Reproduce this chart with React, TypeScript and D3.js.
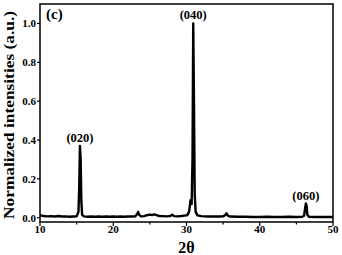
import * as d3 from "d3";

// XRD pattern, 2θ vs normalized intensity
const twoTheta = [
  10, 10.5, 11, 11.5, 12, 12.5, 13, 13.5, 14, 14.5, 15.0, 15.25, 15.35, 15.45, 15.55, 15.65, 15.75,
  16, 16.5, 17, 17.5, 18, 18.5, 19, 19.5, 20, 20.5, 21, 21.5, 22, 22.5, 23, 23.25, 23.4, 23.55, 23.8,
  24.2, 24.6, 25, 25.3, 25.6, 25.9, 26.3, 26.8, 27.3, 27.8, 28.05, 28.3, 28.8, 29.3, 29.7, 30.1, 30.35,
  30.55, 30.7, 30.82, 30.92, 31.02, 31.12, 31.25, 31.5, 32, 32.5, 33, 33.5, 34, 34.5, 35, 35.3, 35.47,
  35.65, 36, 37, 38, 39, 40, 41, 42, 43, 44, 45, 45.8, 46.05, 46.2, 46.3, 46.4, 46.5, 46.7, 47.5, 48, 49, 50,
];
const intensity = [
  0.012, 0.009, 0.007, 0.008, 0.006, 0.009, 0.006, 0.007, 0.005, 0.006, 0.007, 0.03, 0.15, 0.37, 0.3, 0.08, 0.015,
  0.007, 0.005, 0.006, 0.005, 0.006, 0.005, 0.006, 0.005, 0.006, 0.005, 0.006, 0.005, 0.006, 0.006, 0.007, 0.018, 0.03, 0.015, 0.007,
  0.008, 0.013, 0.016, 0.014, 0.017, 0.013, 0.009, 0.008, 0.007, 0.009, 0.016, 0.008, 0.007, 0.009, 0.011, 0.013, 0.03,
  0.09, 0.07, 0.3, 1.0, 0.6, 0.12, 0.03, 0.012, 0.008, 0.007, 0.006, 0.006, 0.006, 0.006, 0.007, 0.014, 0.023,
  0.01, 0.006, 0.005, 0.005, 0.004, 0.004, 0.005, 0.004, 0.004, 0.005, 0.004, 0.005, 0.01, 0.05, 0.073, 0.06, 0.015, 0.005, 0.004, 0.004, 0.004, 0.004,
];

const peakLabels = ["(020)", "(040)", "(060)"];
const peakPos = [15.45, 30.92, 46.3];
const peakHeight = [0.37, 1.0, 0.073];

const xTicks = [10, 20, 30, 40, 50];
const xMinor = [15, 25, 35, 45];
const yTicks = [0, 0.2, 0.4, 0.6, 0.8, 1.0];

const W = 342;
const H = 255;
const margin = { top: 4, right: 9, bottom: 33, left: 40 };
const font = "'Liberation Serif', 'Times New Roman', serif";

export default function App() {
  const x = d3.scaleLinear().domain([10, 50]).range([margin.left, W - margin.right]);
  const y = d3.scaleLinear().domain([-0.022, 1.1]).range([H - margin.bottom, margin.top]);

  const pts = twoTheta.map((t, i) => [t, intensity[i]] as [number, number]);
  const line = d3.line<[number, number]>()
    .x(d => x(d[0]))
    .y(d => y(d[1]));

  const bottom = H - margin.bottom;
  const cx = (margin.left + W - margin.right) / 2;
  const cy = (margin.top + bottom) / 2;

  return (
    <svg width={W} height={H} style={{ position: "absolute", left: 0, top: 0, display: "block", background: "#fff" }}>
      <path d={line(pts) ?? ""} fill="none" stroke="#000" strokeWidth={2.4} strokeLinejoin="round" />

      <rect
        x={margin.left}
        y={margin.top}
        width={W - margin.left - margin.right}
        height={bottom - margin.top}
        fill="none"
        stroke="#000"
        strokeWidth={1.5}
      />

      {/* x axis */}
      {xTicks.map(t => (
        <g key={t} transform={`translate(${x(t)},${bottom})`}>
          <line y2={4} stroke="#000" strokeWidth={1.2} />
          <text y={11} fontFamily={font} fontWeight="bold" fontSize={11} textAnchor="middle">{t}</text>
        </g>
      ))}
      {xMinor.map(t => (
        <line key={t} x1={x(t)} x2={x(t)} y1={bottom} y2={bottom + 2.5} stroke="#000" strokeWidth={1.2} />
      ))}
      <text x={cx} y={253} fontFamily={font} fontWeight="bold" fontSize={16} textAnchor="middle">2θ</text>

      {/* y axis */}
      {yTicks.map(t => (
        <g key={t} transform={`translate(${margin.left},${y(t)})`}>
          <line x2={-3} stroke="#000" strokeWidth={1.2} />
          <text x={-4} y={4} fontFamily={font} fontWeight="bold" fontSize={11} textAnchor="end">{t.toFixed(1)}</text>
        </g>
      ))}
      <text
        transform={`translate(14,${cy + 2}) rotate(-90)`}
        fontFamily={font}
        fontWeight="bold"
        fontSize={15}
        textAnchor="middle"
        textLength={208}
        lengthAdjust="spacingAndGlyphs"
      >
        Normalized intensities (a.u.)
      </text>

      {/* peak labels */}
      {peakLabels.map((lab, i) => (
        <text
          key={lab}
          x={x(peakPos[i])}
          y={y(peakHeight[i]) - 4}
          fontFamily={font}
          fontWeight="bold"
          fontSize={12.5}
          textAnchor="middle"
        >
          {lab}
        </text>
      ))}

      <text x={46} y={19} fontFamily={font} fontWeight="bold" fontSize={15}>(c)</text>
    </svg>
  );
}
